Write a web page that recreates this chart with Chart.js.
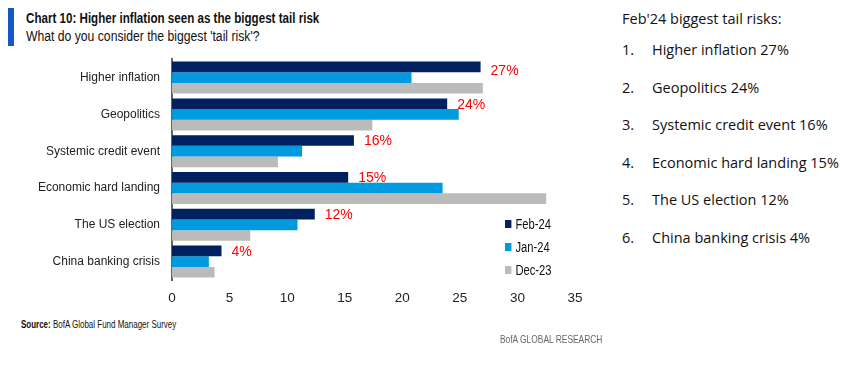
<!DOCTYPE html>
<html>
<head>
<meta charset="utf-8">
<script src="https://cdn.jsdelivr.net/npm/chart.js@4/dist/chart.umd.min.js"></script>
<style>
  body { margin: 0; background: #fff; width: 850px; height: 374px; position: relative; overflow: hidden;
         font-family: "Liberation Sans", Arial, sans-serif; color: #111; }
  .cond { transform: scaleX(0.8); transform-origin: left center; white-space: nowrap; }
  .titlebar { position: absolute; left: 8px; top: 8px; width: 6px; height: 38px; background: #1557c7; }
  .title { position: absolute; left: 26px; top: 10px; font-size: 14.5px; font-weight: bold; }
  .subtitle { position: absolute; left: 26px; top: 28px; font-size: 14px; transform: scaleX(0.87); }
  .chartbox { position: absolute; left: 0; top: 40px; width: 600px; height: 270px; }
  .legend { position: absolute; left: 505px; top: 212px; font-size: 14px; }
  .legend div { height: 23px; display: flex; align-items: center; }
  .legend span.box { width: 8px; height: 8px; margin-right: 5px; display: inline-block; }
  .source { position: absolute; left: 21px; top: 318px; font-size: 10.5px; transform: scaleX(0.76); }
  .brand { position: absolute; left: 500px; top: 333px; font-size: 10.5px; color: #666; }
  .side { position: absolute; left: 622px; top: 9px; font-family: "Open Sans", "Noto Sans", sans-serif; font-size: 14.5px; color: #111; }
  .side .head { margin-bottom: 12px; }
  .side .item { height: 37.6px; }
  .side .num { display: inline-block; width: 30px; }
</style>
</head>
<body>
<div class="titlebar"></div>
<div class="title cond">Chart 10: Higher inflation seen as the biggest tail risk</div>
<div class="subtitle cond">What do you consider the biggest 'tail risk'?</div>
<div class="chartbox"><canvas id="chart"></canvas></div>
<div class="legend cond" id="legend"></div>
<div class="source cond"><b>Source:</b> BofA Global Fund Manager Survey</div>
<div class="brand cond">BofA GLOBAL RESEARCH</div>
<div class="side" id="side"><div class="head">Feb'24 biggest tail risks:</div></div>
<script>
const categories = ['Higher inflation', 'Geopolitics', 'Systemic credit event', 'Economic hard landing', 'The US election', 'China banking crisis'];
const seriesNames = ['Feb-24', 'Jan-24', 'Dec-23'];
const feb24 = [26.8, 23.9, 15.8, 15.3, 12.4, 4.3];
const jan24 = [20.8, 24.9, 11.3, 23.5, 10.9, 3.2];
const dec23 = [27.0, 17.4, 9.2, 32.5, 6.8, 3.7];
const febLabels = [27, 24, 16, 15, 12, 4];
const xTicks = [0, 5, 10, 15, 20, 25, 30, 35];
const colors = ['#002060', '#009ade', '#bbbbbb'];

const fontFamily = '"Liberation Sans", Arial, sans-serif';

// red % labels next to the Feb-24 bars
const valueLabels = {
    id: 'valueLabels',
    afterDatasetsDraw(chart) {
        const ctx = chart.ctx;
        const meta = chart.getDatasetMeta(0);
        ctx.save();
        ctx.fillStyle = '#ff0000';
        ctx.font = '14px ' + fontFamily;
        ctx.textBaseline = 'middle';
        meta.data.forEach((bar, i) => {
            ctx.fillText(febLabels[i] + '%', bar.x + 10, bar.y + (i === 0 ? 4 : 1));
        });
        ctx.restore();
    }
};

const ctx = document.getElementById('chart').getContext('2d');
new Chart(ctx, {
    type: 'bar',
    data: {
        labels: categories,
        datasets: [feb24, jan24, dec23].map((d, i) => ({
            label: seriesNames[i],
            data: d,
            backgroundColor: colors[i],
            barPercentage: 1,
            categoryPercentage: 0.87
        }))
    },
    options: {
        indexAxis: 'y',
        responsive: true,
        maintainAspectRatio: false,
        animation: false,
        layout: { padding: { top: 5, right: 25, left: 0, bottom: 0 } },
        plugins: { legend: { display: false }, tooltip: { enabled: false } },
        scales: {
            x: {
                min: 0, max: 35,
                afterBuildTicks: s => { s.ticks = xTicks.map(v => ({ value: v })); },
                afterFit: s => { s.height = 30; },
                grid: { display: false, drawTicks: false },
                border: { display: false },
                ticks: { padding: 10, color: '#222', font: { family: fontFamily, size: 13.5 } }
            },
            y: {
                afterFit: s => { s.width = 172; },
                grid: { display: false, drawTicks: false },
                border: { display: true, color: '#666', width: 2 },
                ticks: { padding: 12, color: '#222', font: { family: fontFamily, size: 12 } }
            }
        }
    },
    plugins: [valueLabels]
});

// legend
const legend = document.getElementById('legend');
seriesNames.forEach((n, i) => {
    const row = document.createElement('div');
    row.innerHTML = '<span class="box" style="background:' + colors[i] + '"></span>' + n;
    legend.appendChild(row);
});

// side list
const side = document.getElementById('side');
categories.forEach((c, i) => {
    const row = document.createElement('div');
    row.className = 'item';
    row.innerHTML = '<span class="num">' + (i + 1) + '.</span>' + c + ' ' + febLabels[i] + '%';
    side.appendChild(row);
});
</script>
</body>
</html>
